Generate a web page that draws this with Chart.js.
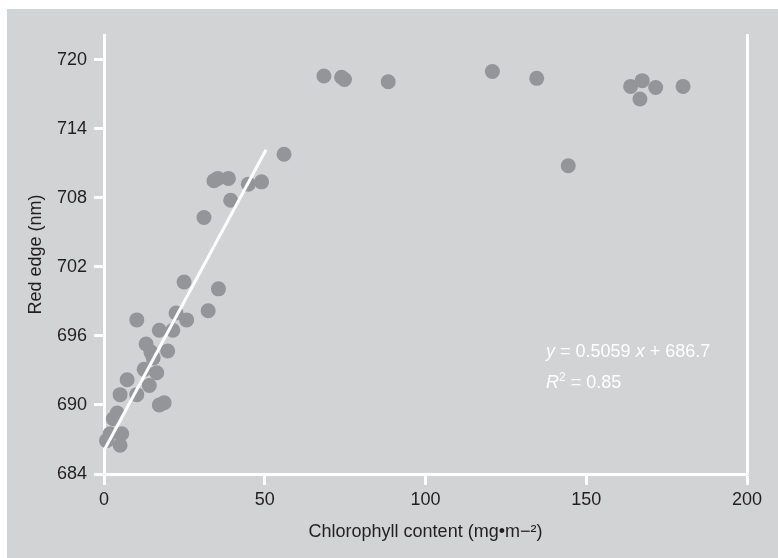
<!DOCTYPE html>
<html><head><meta charset="utf-8">
<style>html,body{margin:0;padding:0;background:#fff;}canvas{display:block;}</style>
<script src="https://cdn.jsdelivr.net/npm/chart.js@4.4.0/dist/chart.umd.min.js"></script>
</head><body>
<canvas id="c" width="778" height="558"></canvas>
<script>
// ---- data ----
const chlorophyll = [0.8, 1.9, 5.5, 5.0, 2.9, 4.1, 5.0, 10.2, 7.2, 12.5, 16.4, 14.1, 17.2, 18.7, 13.1, 14.6, 15.3, 19.8, 17.2, 21.4, 10.2, 22.4, 25.7, 32.4, 24.9, 35.6, 31.1, 39.4, 34.2, 35.4, 38.7, 44.9, 49.0, 56.0,
  68.4, 73.9, 74.8, 88.4, 120.8, 134.6, 144.4, 163.8, 167.4, 171.6, 166.7, 180.1];
const redEdge = [686.9, 687.5, 687.5, 686.5, 688.8, 689.3, 690.9, 690.9, 692.2, 693.1, 692.8, 691.7, 690.0, 690.2, 695.3, 694.6, 694.1, 694.7, 696.5, 696.5, 697.4, 698.0, 697.4, 698.2, 700.7, 700.1, 706.3, 707.8, 709.5, 709.7, 709.7, 709.2, 709.4, 711.8,
  718.6, 718.5, 718.3, 718.1, 719.0, 718.4, 710.8, 717.7, 718.2, 717.6, 716.6, 717.7];
const fitX = [0.3, 50.4];
const fitY = [686.2, 712.2];
const xTicks = [0, 50, 100, 150, 200];
const yTicks = [684, 690, 696, 702, 708, 714, 720];
const xTitle = 'Chlorophyll content (mg\u2022m\u2212\u00B2)';
const yTitle = 'Red edge (nm)';
const eqSlope = '0.5059';
const eqIntercept = '686.7';
const eqR2 = '0.85';

const FONT = '"Liberation Sans", Arial, Helvetica, sans-serif';
const TEXT = '#231f20';
const BG = '#d1d3d4';
const PT = '#939598';

const bgPlugin = {
  id: 'bg',
  beforeDraw(chart) {
    const ctx = chart.ctx;
    ctx.save();
    ctx.fillStyle = BG;
    ctx.fillRect(7, 9, chart.width - 7, chart.height - 9);
    ctx.restore();
  }
};

const eqPlugin = {
  id: 'eq',
  afterDraw(chart) {
    const ctx = chart.ctx;
    const xs = chart.scales.x, ys = chart.scales.y;
    const x0 = xs.getPixelForValue(137.5);
    const y1 = ys.getPixelForValue(694.2);
    const y2 = ys.getPixelForValue(691.45);
    ctx.save();
    ctx.fillStyle = '#ffffff';
    ctx.textBaseline = 'alphabetic';
    ctx.textAlign = 'left';
    const parts = (arr, y) => {
      let x = x0;
      for (const [t, it, size, dy] of arr) {
        ctx.font = (it ? 'italic ' : '') + size + 'px ' + FONT;
        ctx.fillText(t, x, y + (dy || 0));
        x += ctx.measureText(t).width;
      }
    };
    parts([['y', true, 18], [' = ' + eqSlope + ' ', false, 18], ['x', true, 18], [' + ' + eqIntercept, false, 18]], y1);
    parts([['R', true, 18], ['2', false, 12, -7], [' = ' + eqR2, false, 18]], y2);
    ctx.restore();
  }
};

const points = chlorophyll.map((v, i) => ({ x: v, y: redEdge[i] }));
const fit = fitX.map((v, i) => ({ x: v, y: fitY[i] }));

new Chart(document.getElementById('c'), {
  type: 'scatter',
  data: {
    datasets: [
      { type: 'line', data: fit, borderColor: '#ffffff', borderWidth: 3, pointRadius: 0, fill: false, order: 0, clip: false },
      { data: points, backgroundColor: PT, borderWidth: 0, pointRadius: 7.5, pointHoverRadius: 7.5, order: 1, clip: false }
    ]
  },
  options: {
    responsive: false,
    animation: false,
    devicePixelRatio: 1,
    plugins: { legend: { display: false }, tooltip: { enabled: false } },
    layout: { padding: { top: 35, right: 31, left: 0, bottom: 0 } },
    scales: {
      x: {
        type: 'linear', min: 0, max: 200, z: 1,
        afterBuildTicks(s) { s.ticks = xTicks.map(v => ({ value: v })); },
        afterFit(s) { s.height = 84; },
        border: { display: true, color: '#ffffff', width: 3 },
        grid: { display: true, drawOnChartArea: false, drawTicks: true, tickLength: 11, tickWidth: 3, color: '#ffffff' },
        ticks: { color: TEXT, padding: 4, font: { family: FONT, size: 18 } },
        title: { display: true, text: xTitle, color: TEXT, font: { family: FONT, size: 18 }, padding: { top: 0, bottom: 15 } }
      },
      y: {
        type: 'linear', min: 684, max: 722.17, z: 1,
        afterBuildTicks(s) { s.ticks = yTicks.map(v => ({ value: v })); },
        afterFit(s) { s.width = 104; },
        border: { display: true, color: '#ffffff', width: 3 },
        grid: { display: true, drawOnChartArea: false, drawTicks: true, tickLength: 10, tickWidth: 3, color: '#ffffff' },
        ticks: { color: TEXT, padding: 7, font: { family: FONT, size: 18 } },
        title: { display: true, text: yTitle, color: TEXT, font: { family: FONT, size: 18 }, padding: { top: 25, bottom: 0 } }
      },
      y2: {
        type: 'linear', position: 'right', min: 684, max: 722.17, z: 1,
        afterFit(s) { s.width = 0; },
        border: { display: true, color: '#ffffff', width: 3 },
        grid: { display: false },
        ticks: { display: false }
      }
    }
  },
  plugins: [bgPlugin, eqPlugin]
});
</script>
</body></html>
